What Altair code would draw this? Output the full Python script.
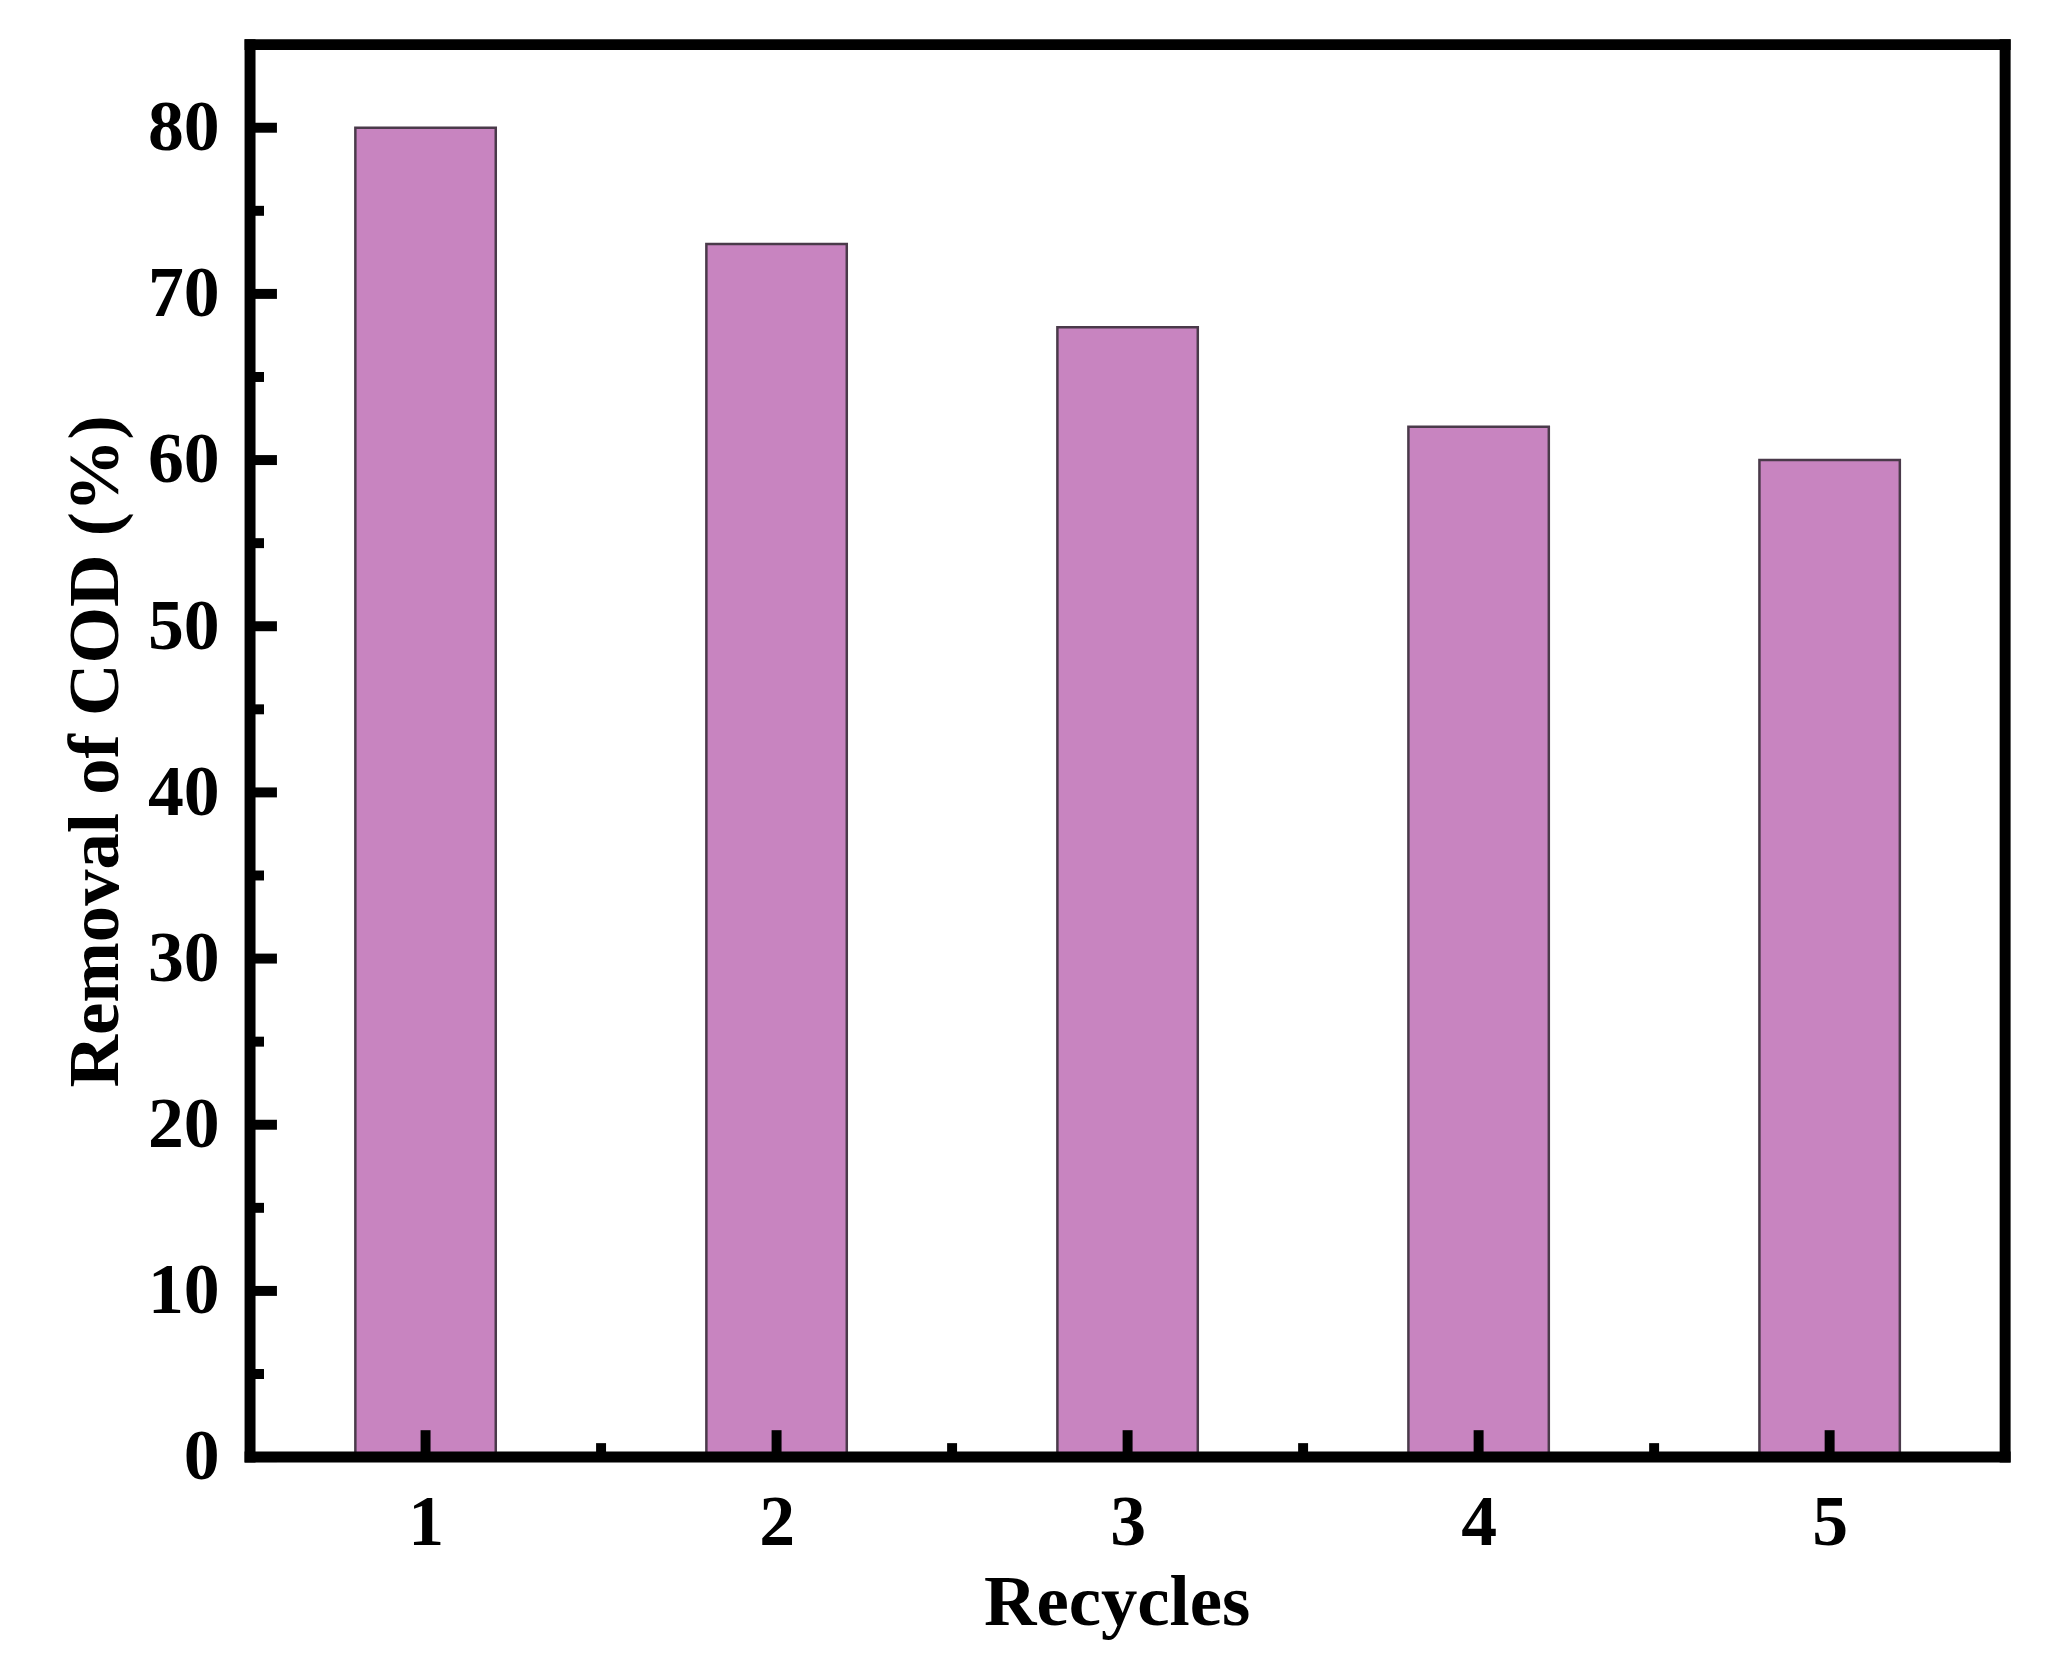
import altair as alt
import pandas as pd

# ---- data ----
recycles = [1, 2, 3, 4, 5]
removal = [80, 73, 68, 62, 60]

y_major = [0, 10, 20, 30, 40, 50, 60, 70, 80]
y_minor = [5, 15, 25, 35, 45, 55, 65, 75]
x_major = [1, 2, 3, 4, 5]
x_minor = [1.5, 2.5, 3.5, 4.5]

x_domain = [0.5, 5.5]
y_domain = [0, 85]

W, H = 1762, 1418
FONT = "Liberation Serif"

bars_df = pd.DataFrame({"recycle": recycles, "removal": removal})
frame_df = pd.DataFrame({
    "xa": [x_domain[0], x_domain[0], x_domain[0], x_domain[1]],
    "xb": [x_domain[1], x_domain[1], x_domain[0], x_domain[1]],
    "ya": [y_domain[0], y_domain[1], y_domain[0], y_domain[0]],
    "yb": [y_domain[0], y_domain[1], y_domain[1], y_domain[1]],
})

xs = alt.Scale(domain=x_domain, nice=False, zero=False)
ys = alt.Scale(domain=y_domain, nice=False, zero=False)

xaxis = alt.Axis(
    values=x_major, ticks=False, tickSize=0, domain=False, grid=False,
    labelFont=FONT, labelFontSize=72, labelFontWeight="bold", labelColor="black",
    labelPadding=31, format="d",
    title="Recycles", titleFont=FONT, titleFontSize=73, titleFontWeight="bold",
    titleColor="black", titleX=870, titleY=168, titleAlign="center",
    titleBaseline="alphabetic")
yaxis = alt.Axis(
    values=y_major, ticks=False, tickSize=0, domain=False, grid=False,
    labelFont=FONT, labelFontSize=72, labelFontWeight="bold", labelColor="black",
    labelPadding=31, format="d",
    title="Removal of COD (%)", titleFont=FONT, titleFontSize=73, titleFontWeight="bold",
    titleColor="black", titleX=-133, titleY=709, titleAngle=270, titleAlign="center",
    titleBaseline="alphabetic")

bars = alt.Chart(bars_df).transform_calculate(
    lo="datum.recycle - 0.2", hi="datum.recycle + 0.2"
).mark_bar(color="#C884C0", stroke="#4a3a4a", strokeWidth=2.5).encode(
    x=alt.X("lo:Q", scale=xs, axis=xaxis),
    x2="hi:Q",
    y=alt.Y("removal:Q", scale=ys, axis=yaxis),
    y2=alt.datum(0),
)

ytick_major = alt.Chart(pd.DataFrame({"v": y_major})).mark_rule(
    color="black", strokeWidth=10).encode(
    y=alt.Y("v:Q", scale=ys, axis=yaxis), x=alt.value(0), x2=alt.value(27))
ytick_minor = alt.Chart(pd.DataFrame({"v": y_minor})).mark_rule(
    color="black", strokeWidth=10).encode(
    y=alt.Y("v:Q", scale=ys, axis=yaxis), x=alt.value(0), x2=alt.value(14))
xtick_major = alt.Chart(pd.DataFrame({"v": x_major})).mark_rule(
    color="black", strokeWidth=10).encode(
    x=alt.X("v:Q", scale=xs, axis=xaxis), y=alt.value(H), y2=alt.value(H - 27))
xtick_minor = alt.Chart(pd.DataFrame({"v": x_minor})).mark_rule(
    color="black", strokeWidth=10).encode(
    x=alt.X("v:Q", scale=xs, axis=xaxis), y=alt.value(H), y2=alt.value(H - 14))

frame = alt.Chart(frame_df).mark_rule(
    color="black", strokeWidth=11, strokeCap="square").encode(
    x=alt.X("xa:Q", scale=xs, axis=xaxis), x2="xb:Q",
    y=alt.Y("ya:Q", scale=ys, axis=yaxis), y2="yb:Q")

chart = alt.layer(
    bars, ytick_major, ytick_minor, xtick_major, xtick_minor, frame
).properties(
    width=W, height=H,
    autosize=alt.AutoSizeParams(type="none"),
    padding={"left": 243, "top": 33.5, "right": 35, "bottom": 220},
    background="white",
).configure_view(stroke="transparent")

chart.save("out.html", embed_options={"renderer": "svg", "actions": False})
